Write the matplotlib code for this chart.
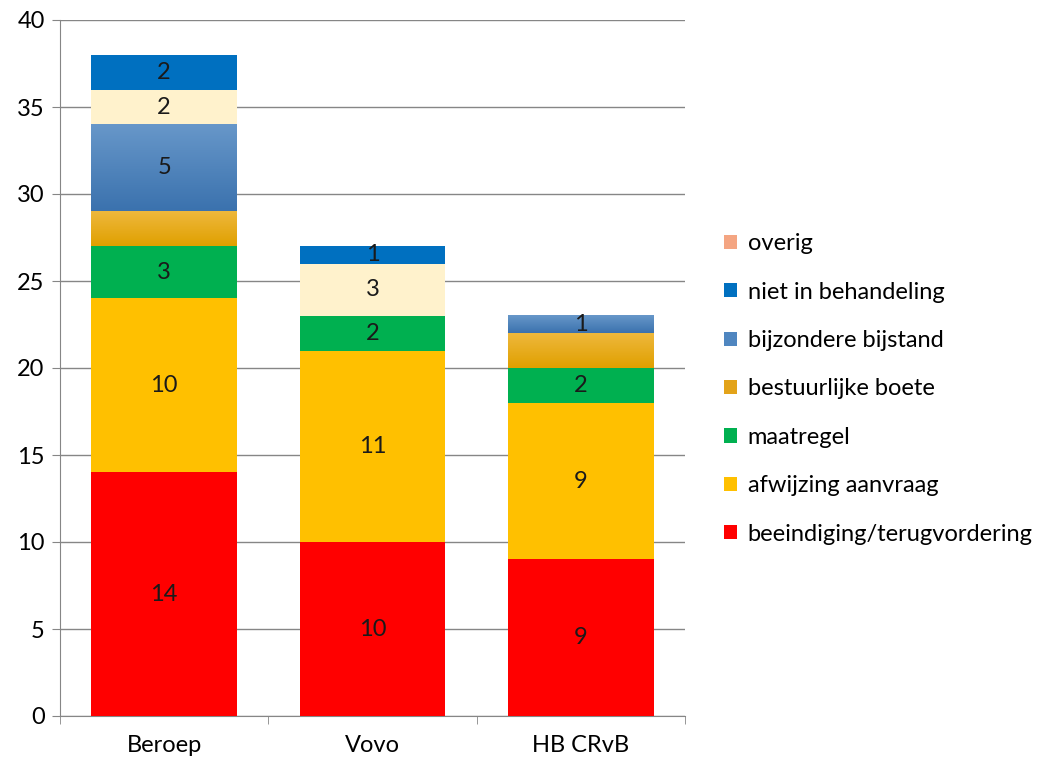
import numpy as np
import matplotlib
matplotlib.use('Agg')
import matplotlib.pyplot as plt
from matplotlib.patches import Patch

plt.rcParams['font.family'] = ['Lato', 'DejaVu Sans']

# === data ===
categories = ['Beroep', 'Vovo', 'HB CRvB']
beeindiging = [14, 10, 9]
afwijzing   = [10, 11, 9]
maatregel   = [3, 2, 2]
boete       = [2, 0, 2]
bijstand    = [5, 0, 1]
overig_licht = [2, 3, 0]   # cream segment, not in legend
niet_in_beh = [2, 1, 0]
overig      = [0, 0, 0]

series = [
    ('beeindiging/terugvordering', beeindiging, '#FF0000', True),
    ('afwijzing aanvraag', afwijzing, '#FFC000', True),
    ('maatregel', maatregel, '#00B050', True),
    ('bestuurlijke boete', boete, '#E3A319', False),
    ('bijzondere bijstand', bijstand, '#4F86C0', True),
    ('_nolegend_', overig_licht, '#FFF2CC', True),
    ('niet in behandeling', niet_in_beh, '#0070C0', True),
    ('overig', overig, '#F4A582', True),
]

# gradient colours (top, bottom) for the two shaded series
gradients = {
    'bestuurlijke boete': ('#EEB83C', '#E0A000'),
    'bijzondere bijstand': ('#6797C9', '#3B72AE'),
}

fig = plt.figure(figsize=(10.5, 7.64), dpi=100)
ax = fig.add_axes([60/1050, 48/764, 625/1050, 696/764])

FS = 17
x = np.arange(len(categories))
width = 0.70
bottom = np.zeros(len(categories))
handles = []
for name, vals, col, show in series:
    vals = np.array(vals, dtype=float)
    ax.bar(x, vals, width, bottom=bottom, color=col, zorder=3, linewidth=0)
    if name in gradients:
        top_c, bot_c = gradients[name]
        cmap = matplotlib.colors.LinearSegmentedColormap.from_list('g', [bot_c, top_c])
        for xi, b, v in zip(x, bottom, vals):
            if v > 0:
                ax.imshow(np.linspace(0, 1, 50).reshape(-1, 1), cmap=cmap, origin='lower',
                          extent=[xi - width/2, xi + width/2, b, b + v], aspect='auto', zorder=3.5)
    for xi, b, v in zip(x, bottom, vals):
        if v > 0 and show:
            ax.text(xi, b + v/2, f'{int(v)}', ha='center', va='center', fontsize=FS,
                    color='#1a1a1a', zorder=5)
    if name != '_nolegend_':
        handles.append(Patch(facecolor=col, label=name))
    bottom += vals

ax.set_xlim(-0.5, 2.5)
ax.set_ylim(0, 40)
ax.set_yticks(range(0, 41, 5))
ax.set_xticks(x)
ax.set_xticklabels(categories)
ax.set_xticks([-0.5, 0.5, 1.5, 2.5], minor=True)
ax.tick_params(axis='x', which='major', length=0, pad=14, labelsize=FS)
ax.tick_params(axis='x', which='minor', length=6, color='#868686', direction='out')
ax.tick_params(axis='y', length=6, color='#868686', labelsize=FS, pad=5)
ax.yaxis.grid(True, color='#868686', linewidth=1)
ax.set_axisbelow(True)
for s in ['top', 'right']:
    ax.spines[s].set_visible(False)
for s in ['left', 'bottom']:
    ax.spines[s].set_color('#868686')

leg = fig.legend(handles=handles[::-1], loc='upper left', bbox_to_anchor=(703/1050, 1 - 212/764),
                 frameon=False, fontsize=FS, handlelength=0.55, handleheight=0.55,
                 labelspacing=1.16, handletextpad=0.45)

fig.savefig('out.png', dpi=100)
